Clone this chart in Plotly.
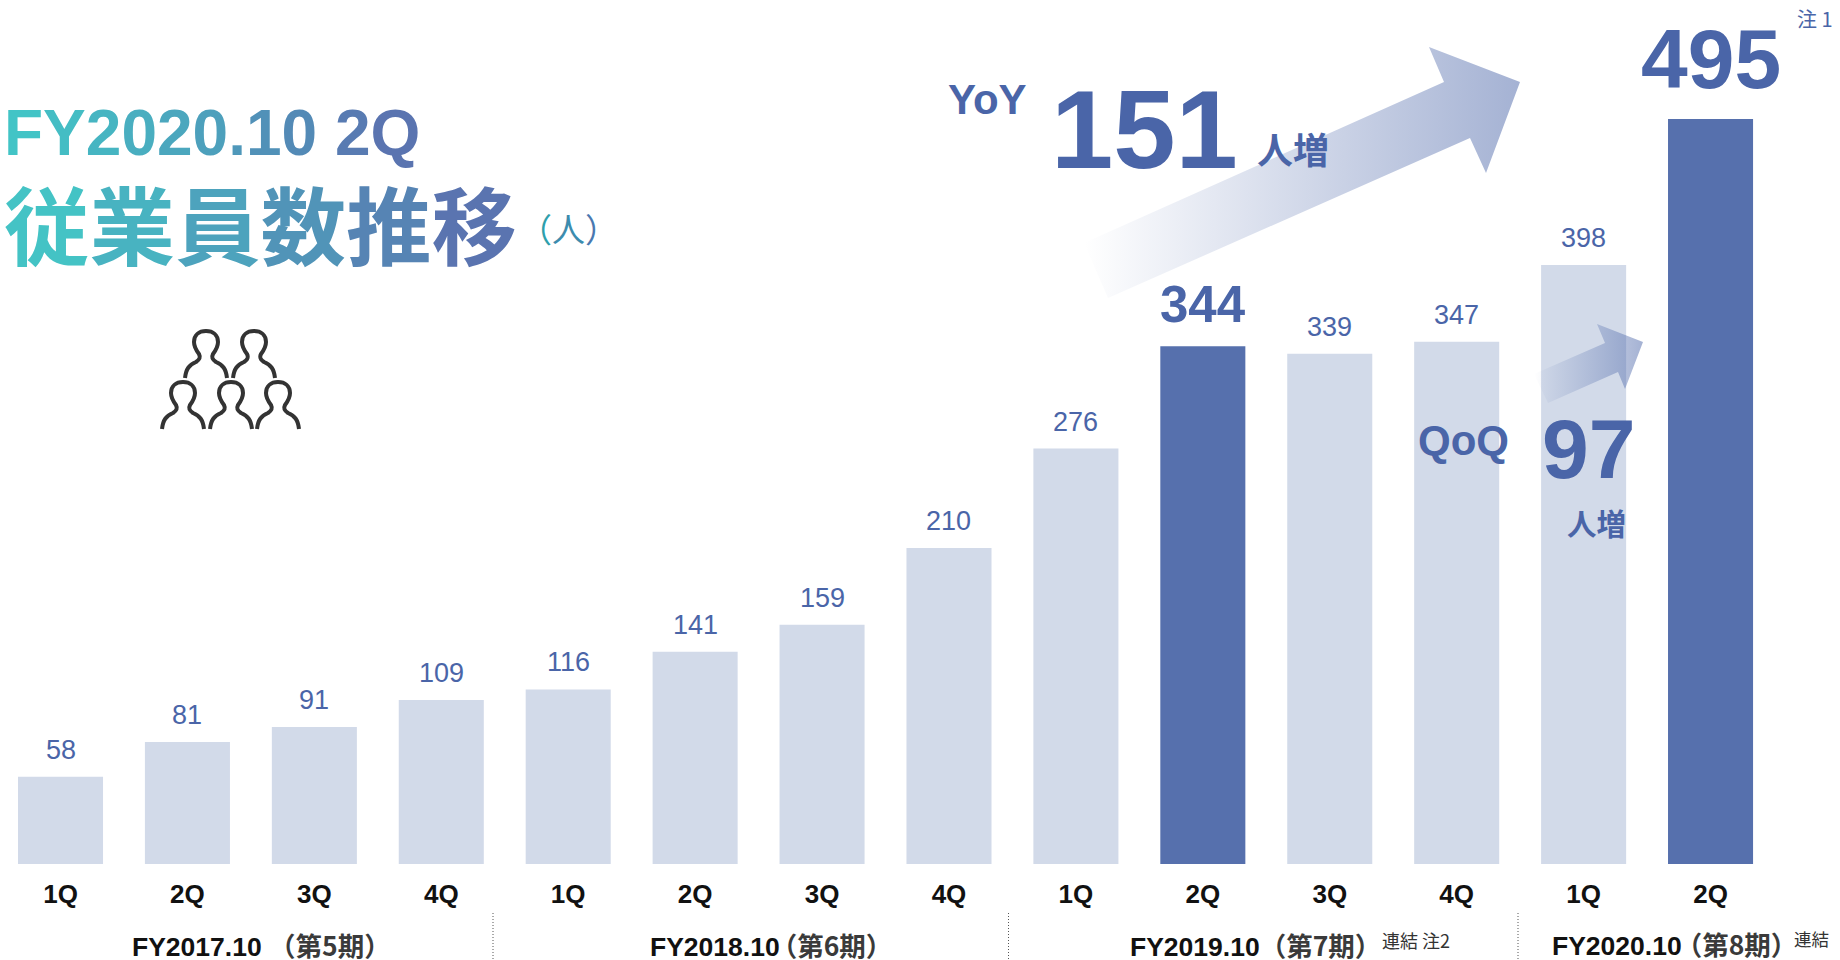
import plotly.graph_objects as go

# Headcount per fiscal quarter
quarters = ["1Q", "2Q", "3Q", "4Q", "1Q", "2Q", "3Q", "4Q", "1Q", "2Q", "3Q", "4Q", "1Q", "2Q"]
headcount = [58, 81, 91, 109, 116, 141, 159, 210, 276, 344, 339, 347, 398, 495]
highlighted = {9, 13}
yoy_increase = 151
qoq_increase = 97

W, H = 1840, 960
BASE = 864  # pixel row of the bar baseline

LIGHT = "#D2DAE9"
DARK = "#5670AD"
INK = "#4A65A8"
LATIN = "Liberation Sans, Noto Sans CJK JP, sans-serif"
CJK = "Noto Sans CJK JP, Liberation Sans, sans-serif"


def xp(px):
    return px / W


def yp(py):
    return (BASE - py) / BASE


def mix(a, b, t):
    ca = [int(a[i:i + 2], 16) for i in (1, 3, 5)]
    cb = [int(b[i:i + 2], 16) for i in (1, 3, 5)]
    return "#%02X%02X%02X" % tuple(round(p + (q - p) * t) for p, q in zip(ca, cb))


def shaded(text, a, b):
    n = max(len(text) - 1, 1)
    return "".join(
        f'<span style="color:{mix(a, b, i / n)}">{ch}</span>' for i, ch in enumerate(text)
    )


def label(text, x, y, size, color=INK, family=LATIN, bold=True, anchor="left"):
    return dict(
        text=text, xref="paper", yref="paper", x=xp(x), y=yp(y),
        xanchor=anchor, yanchor="middle", showarrow=False, borderpad=0,
        font=dict(family=family, size=size, color=color, weight="bold" if bold else "normal"),
    )


def period(fy, term, tighten=0):
    # Negative tracking on the last Latin glyph pulls the full-width bracket closer
    head, tail = fy[:-1], fy[-1]
    return (f'{head}<span style="letter-spacing:{-tighten}px">{tail}</span>'
            f'<span style="font-size:26.5px;color:#3A3A3A;'
            f'font-family:\'Noto Sans CJK JP\'">{term}</span>')


fig = go.Figure()
xs = list(range(len(headcount)))

fig.add_trace(go.Bar(
    x=xs, y=headcount, width=0.67,
    marker=dict(color=[DARK if i in highlighted else LIGHT for i in xs], line=dict(width=0)),
    hoverinfo="skip", showlegend=False,
))


# Gradient arrows and the icon live on an overlay axis pair measured in page pixels
def arrow(points, peak):
    px, py = zip(*points)
    fig.add_trace(go.Scatter(
        x=list(px) + [px[0]], y=list(py) + [py[0]], xaxis="x2", yaxis="y2",
        mode="lines", line=dict(width=0), fill="toself",
        fillgradient=dict(type="horizontal", colorscale=[
            [0, "rgba(74,101,168,0)"], [1, f"rgba(74,101,168,{peak})"]]),
        hoverinfo="skip", showlegend=False,
    ))


arrow([(1084, 243), (1444, 82), (1429, 47), (1520, 82), (1486, 173), (1470, 138), (1108, 298)], 0.5)
arrow([(1534, 374), (1605, 343), (1597, 324), (1643, 342), (1625, 389), (1618, 372), (1548, 403)], 0.5)


def person(cx, top):
    pts = [
        ("M", [(-21, 47)]),
        ("C", [(-20, 38), (-17, 34), (-10, 31)]),
        ("C", [(-7, 29), (-5, 27), (-7, 23)]),
        ("C", [(-10, 19), (-12, 15), (-12, 11)]),
        ("C", [(-12, 4), (-7, 0), (0, 0)]),
        ("C", [(7, 0), (12, 4), (12, 11)]),
        ("C", [(12, 15), (10, 19), (7, 23)]),
        ("C", [(5, 27), (7, 29), (10, 31)]),
        ("C", [(17, 34), (20, 38), (21, 47)]),
    ]
    d = " ".join(cmd + " " + " ".join(f"{cx + a},{top + b}" for a, b in p) for cmd, p in pts)
    return dict(type="path", path=d, xref="x2", yref="y2",
                line=dict(color="#333333", width=4), fillcolor="rgba(0,0,0,0)")


icon = [person(206, 331), person(254, 331), person(183, 382), person(231, 382), person(278, 382)]

# Dotted separators between fiscal years
dividers = [
    dict(type="line", xref="paper", yref="paper", x0=xp(x), x1=xp(x), y0=yp(913), y1=yp(960),
         line=dict(color="#555555", width=1, dash="1px,2px"))
    for x in (493, 1008.5, 1518)
]

# Value labels sit a fixed distance above each bar
annotations = []
for i, v in zip(xs, headcount):
    big = i == 13
    mid = i == 9
    size = 84 if big else 51 if mid else 27
    annotations.append(dict(
        text=str(v), x=i, y=v, xref="x", yref="y", xanchor="center", yanchor="bottom",
        yshift=12 if big or mid else 11, showarrow=False, borderpad=0,
        font=dict(family=LATIN, size=size, color=INK, weight="bold" if big or mid else "normal"),
    ))

annotations += [
    label(shaded("FY2020.10 2Q", "#42C4C6", "#5A74B0"), 3, 133, 64),
    label(shaded("従業員数推移", "#44C3C5", "#5A74B0"), 3, 222, 85.5, family=CJK),
    label(shaded("（人）", "#2E9FAC", "#4A78B0"), 568, 228, 33, family=CJK, bold=False, anchor="center"),
    label("YoY", 947, 100, 42),
    label(str(yoy_increase), 1144, 129, 112, anchor="center"),
    label("人増", 1293, 148, 36, family=CJK, anchor="center"),
    label("QoQ", 1463, 440, 42, anchor="center"),
    label(str(qoq_increase), 1588, 449, 84, anchor="center"),
    label("人増", 1596, 522, 29.5, family=CJK, anchor="center"),
    label("注 1", 1815, 19, 20, family=CJK, bold=False, anchor="center"),
    label(period("FY2017.10 ", "（第5期）"), 131, 944, 26.5, color="#111111"),
    label(period("FY2018.10", "（第6期）", 9), 649, 944, 26.5, color="#111111"),
    label(period("FY2019.10", "（第7期）"), 1129, 944, 26.5, color="#111111"),
    label(period("FY2020.10", "（第8期）", 6), 1551, 943, 26.5, color="#111111"),
    label("連結 注2", 1381, 940, 18, color="#333333", family=CJK, bold=False),
    label("連結", 1793, 938, 17.5, color="#333333", family=CJK, bold=False),
]

fig.update_layout(
    width=W, height=H, autosize=False,
    margin=dict(l=0, r=0, t=0, b=H - BASE, pad=0),
    paper_bgcolor="white", plot_bgcolor="white",
    showlegend=False, barmode="overlay",
    xaxis=dict(
        range=[-0.4767, 14.02], tickmode="array", tickvals=xs, ticktext=quarters,
        ticks="", showgrid=False, zeroline=False, showline=False, ticklabelstandoff=12,
        tickfont=dict(family=LATIN, size=26, color="#111111", weight="bold"), tickangle=0,
        fixedrange=True,
    ),
    yaxis=dict(range=[0, BASE / 1.505], visible=False, fixedrange=True),
    xaxis2=dict(range=[0, W], overlaying="x", visible=False, fixedrange=True),
    yaxis2=dict(range=[BASE, 0], overlaying="y", visible=False, fixedrange=True),
    shapes=icon + dividers,
    annotations=annotations,
)

fig.write_html("out.html", config=dict(displayModeBar=False))
